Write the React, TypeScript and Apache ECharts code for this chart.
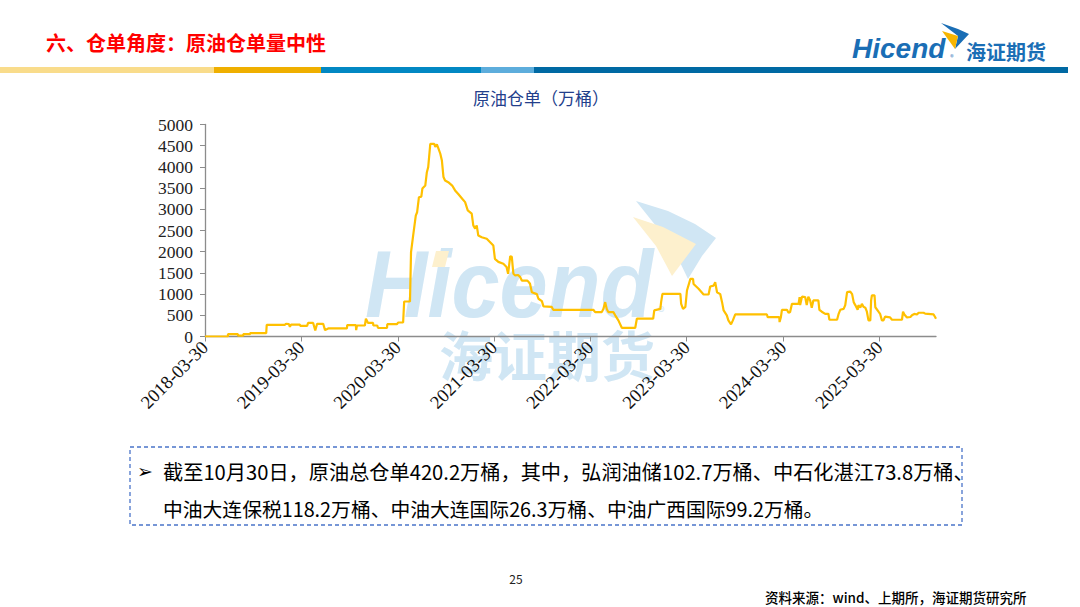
import React, { useEffect, useRef } from 'react';
import * as echarts from 'echarts';

// 原油仓单（万桶）— readings from the reference chart
const dates: string[] = [
  '2018-03-30', '2018-06-25', '2018-06-25', '2018-08-02', '2018-08-02', '2018-08-22', '2018-08-22', '2018-09-17',
  '2018-09-17', '2018-11-17', '2018-11-19', '2019-01-27', '2019-01-31', '2019-02-11', '2019-02-15', '2019-02-19',
  '2019-03-25', '2019-03-26', '2019-04-21', '2019-04-25', '2019-05-14', '2019-05-22', '2019-05-29', '2019-06-21',
  '2019-06-28', '2019-07-10', '2019-09-19', '2019-09-20', '2019-10-23', '2019-10-24', '2019-10-27', '2019-11-26',
  '2019-11-30', '2019-12-08', '2019-12-27', '2019-12-28', '2020-01-12', '2020-01-15', '2020-02-18', '2020-02-19',
  '2020-03-27', '2020-03-31', '2020-04-19', '2020-04-23', '2020-05-15', '2020-05-19', '2020-05-27', '2020-06-06',
  '2020-06-11', '2020-06-18', '2020-06-27', '2020-07-01', '2020-07-12', '2020-07-18', '2020-07-23', '2020-07-31',
  '2020-08-15', '2020-08-19', '2020-08-25', '2020-08-30', '2020-09-07', '2020-09-13', '2020-09-19', '2020-09-25',
  '2020-10-07', '2020-10-22', '2020-11-02', '2020-11-14', '2020-11-29', '2020-12-10', '2020-12-20', '2021-01-04',
  '2021-01-10', '2021-01-17', '2021-01-23', '2021-01-29', '2021-02-11', '2021-03-02', '2021-03-14', '2021-03-27',
  '2021-04-02', '2021-04-15', '2021-05-04', '2021-05-16', '2021-05-22', '2021-05-30', '2021-06-05', '2021-06-11',
  '2021-06-18', '2021-06-29', '2021-07-07', '2021-07-13', '2021-08-01', '2021-08-06', '2021-08-13', '2021-08-20',
  '2021-09-08', '2021-09-14', '2021-09-27', '2021-10-03', '2021-11-03', '2021-11-09', '2022-04-10', '2022-04-17',
  '2022-05-12', '2022-05-18', '2022-05-25', '2022-05-31', '2022-06-06', '2022-06-25', '2022-07-02', '2022-07-14',
  '2022-07-27', '2022-09-16', '2022-09-22', '2022-11-23', '2022-11-27', '2022-12-20', '2022-12-23', '2022-12-28',
  '2023-03-06', '2023-03-09', '2023-03-16', '2023-03-25', '2023-03-31', '2023-04-13', '2023-04-23', '2023-04-25',
  '2023-05-14', '2023-06-02', '2023-06-21', '2023-06-27', '2023-07-10', '2023-07-16', '2023-07-23', '2023-08-04',
  '2023-08-11', '2023-08-17', '2023-08-29', '2023-09-04', '2023-09-14', '2023-09-21', '2023-09-30', '2024-01-28',
  '2024-01-31', '2024-03-15', '2024-03-16', '2024-03-21', '2024-03-25', '2024-04-13', '2024-04-19', '2024-04-25',
  '2024-05-02', '2024-05-27', '2024-05-31', '2024-06-02', '2024-06-09', '2024-06-21', '2024-06-27', '2024-07-03',
  '2024-07-10', '2024-07-16', '2024-07-22', '2024-08-10', '2024-08-14', '2024-08-23', '2024-09-05', '2024-09-17',
  '2024-09-21', '2024-10-20', '2024-10-26', '2024-11-01', '2024-11-14', '2024-11-20', '2024-11-27', '2024-12-09',
  '2024-12-16', '2024-12-22', '2024-12-28', '2025-01-06', '2025-01-09', '2025-01-16', '2025-01-22', '2025-01-28',
  '2025-02-04', '2025-02-10', '2025-02-16', '2025-02-23', '2025-02-26', '2025-03-01', '2025-03-11', '2025-03-14',
  '2025-03-26', '2025-04-01', '2025-04-08', '2025-04-14', '2025-04-20', '2025-05-09', '2025-05-16', '2025-06-23',
  '2025-06-27', '2025-07-02', '2025-07-12', '2025-07-25', '2025-07-31', '2025-08-09', '2025-08-19', '2025-08-25',
  '2025-09-13', '2025-09-19', '2025-10-21', '2025-10-27', '2025-10-30',
];

const values: number[] = [
  0, 0, 55, 55, 20, 20, 55, 55,
  80, 80, 275, 275, 300, 290, 230, 280,
  280, 250, 250, 320, 320, 140, 300, 300,
  150, 190, 190, 270, 270, 150, 260, 260,
  420, 320, 320, 260, 260, 200, 200, 290,
  290, 330, 330, 825, 825, 1990, 2380, 2850,
  2930, 3285, 3300, 3490, 3560, 3875, 3990, 4545,
  4545, 4470, 4530, 4450, 4310, 4150, 3760, 3680,
  3640, 3560, 3445, 3360, 3250, 3170, 2975, 2900,
  2620, 2545, 2620, 2380, 2340, 2305, 2230, 2145,
  1830, 1760, 1715, 1640, 1480, 1895, 1880, 1480,
  1440, 1450, 1400, 1320, 1320, 1300, 1245, 1045,
  1000, 890, 835, 710, 700, 630, 630, 575,
  575, 650, 810, 650, 575, 575, 500, 380,
  205, 205, 420, 420, 615, 650, 810, 1005,
  1005, 770, 650, 700, 1085, 1360, 1360, 1240,
  1125, 990, 990, 1180, 1200, 1280, 1045, 1000,
  810, 615, 500, 380, 285, 380, 520, 520,
  455, 455, 340, 455, 630, 630, 560, 580,
  770, 770, 930, 740, 940, 930, 740, 940,
  850, 675, 850, 850, 630, 585, 535, 535,
  395, 395, 535, 630, 650, 740, 1045, 1060,
  1000, 810, 740, 630, 740, 680, 770, 700,
  680, 585, 380, 380, 850, 970, 970, 690,
  585, 535, 380, 380, 470, 450, 395, 395,
  585, 520, 450, 460, 500, 535, 520, 560,
  560, 540, 520, 455, 420.2,
];

const tickLabels: string[] = [
  '2018-03-30', '2019-03-30', '2020-03-30', '2021-03-30',
  '2022-03-30', '2023-03-30', '2024-03-30', '2025-03-30',
];
const axisStart = '2018-03-30';
const axisEnd = '2025-10-30';

const yMin = 0;
const yMax = 5000;
const yStep = 500;

const slideTitle = '六、仓单角度：原油仓单量中性';
const chartTitle = '原油仓单（万桶）';
const noteLine1 = '截至10月30日，原油总仓单420.2万桶，其中，弘润油储102.7万桶、中石化湛江73.8万桶、';
const noteLine2 = '中油大连保税118.2万桶、中油大连国际26.3万桶、中油广西国际99.2万桶。';
const pageNo = '25';
const sourceText = '资料来源：wind、上期所，海证期货研究所';

function ts(s: string): number {
  const [y, m, d] = s.split('-').map(Number);
  return Date.UTC(y, m - 1, d);
}
function pad(n: number) {
  return n < 10 ? '0' + n : '' + n;
}
function fmt(v: number): string {
  const d = new Date(v);
  return d.getUTCFullYear() + '-' + pad(d.getUTCMonth() + 1) + '-' + pad(d.getUTCDate());
}

const CJK = "'Noto Sans CJK SC', 'Noto Sans', sans-serif";
const SERIF = "'Liberation Serif', 'DejaVu Serif', serif";
const SANS = "'Liberation Sans', Arial, sans-serif";
const wmBlue = '#D0E6F4';
const wmYellow = '#FDF0CD';
const logoBlue = '#1A6EB5';

export default function App() {
  const ref = useRef<HTMLDivElement>(null);

  useEffect(() => {
    document.body.style.margin = '0';
    const chart = echarts.init(ref.current!, null, { renderer: 'svg' });
    const tickValues = tickLabels.map(ts);

    chart.setOption({
      animation: false,
      backgroundColor: '#ffffff',
      grid: { left: 205, right: 144, top: 124.5, bottom: 270.5, containLabel: false },
      xAxis: {
        type: 'value',
        min: ts(axisStart),
        max: ts(axisEnd),
        axisLine: { show: true, onZero: false, lineStyle: { color: '#8C8C8C', width: 1.3 } },
        axisTick: { show: true, length: 5, lineStyle: { color: '#8C8C8C' }, customValues: tickValues },
        axisLabel: {
          customValues: tickValues,
          rotate: 45,
          margin: 8,
          color: '#111',
          fontFamily: SERIF,
          fontSize: 18.5,
          formatter: (v: number) => fmt(v),
        },
        splitLine: { show: false },
      },
      yAxis: {
        type: 'value',
        min: yMin,
        max: yMax,
        interval: yStep,
        axisLine: { show: true, lineStyle: { color: '#8C8C8C', width: 1.3 } },
        axisTick: { show: true, length: 5, lineStyle: { color: '#8C8C8C' } },
        axisLabel: { color: '#222', fontFamily: SERIF, fontSize: 17.5, margin: 12, formatter: (v: number) => String(v) },
        splitLine: { show: false },
      },
      series: [
        {
          type: 'line',
          data: dates.map((d, i) => [ts(d), values[i]]),
          symbol: 'none',
          showSymbol: false,
          lineStyle: { color: '#FFC000', width: 2.2 },
          z: 5,
        },
      ],
      graphic: [
        // watermark
        {
          type: 'text', x: 365, y: 284, z: -10, scaleX: 0.92,
          style: { text: 'Hicend', fill: wmBlue, fontSize: 94, fontWeight: 'bold', fontStyle: 'italic',
            fontFamily: SANS, verticalAlign: 'middle', align: 'left' },
        },
        {
          type: 'polygon', z: -9,
          shape: { points: [[436, 251], [449, 251], [445, 267], [432, 267]] },
          style: { fill: wmYellow },
        },
        {
          type: 'text', x: 661, y: 311, z: -10,
          style: { text: '®', fill: wmBlue, fontSize: 14, fontFamily: CJK, verticalAlign: 'middle', align: 'center' },
        },
        {
          type: 'text', x: 439, y: 326, z: -10,
          style: { text: '海证期货', fill: wmBlue, fontSize: 54, fontWeight: 'bold', fontFamily: CJK, verticalAlign: 'top', align: 'left' },
        },
        {
          type: 'polygon', z: -10,
          shape: { points: [[636, 201], [668, 211], [695, 224], [716, 238], [702, 256], [688, 279], [676, 254], [656, 226]] },
          style: { fill: wmBlue },
        },
        {
          type: 'polygon', z: -9,
          shape: { points: [[633, 217], [663, 227], [696, 244], [672, 276], [656, 246]] },
          style: { fill: wmYellow },
        },
        // slide header
        {
          type: 'text', x: 46, y: 42,
          style: { text: slideTitle, fill: '#FF0000', fontSize: 20, fontWeight: 'bold', fontFamily: CJK, verticalAlign: 'middle' },
        },
        { type: 'rect', shape: { x: 0, y: 67, width: 214, height: 6 }, style: { fill: '#F9DC8B' } },
        { type: 'rect', shape: { x: 214, y: 67, width: 107, height: 6 }, style: { fill: '#EFAF00' } },
        { type: 'rect', shape: { x: 321, y: 67, width: 160, height: 6 }, style: { fill: '#0288C3' } },
        { type: 'rect', shape: { x: 481, y: 67, width: 53, height: 6 }, style: { fill: '#5DADDC' } },
        { type: 'rect', shape: { x: 534, y: 67, width: 534, height: 6 }, style: { fill: '#0069A3' } },
        // header logo
        {
          type: 'text', x: 852, y: 48,
          style: { text: 'Hicend', fill: logoBlue, fontSize: 28, fontWeight: 'bold', fontStyle: 'italic',
            fontFamily: SANS, verticalAlign: 'middle' },
        },
        {
          type: 'text', x: 952, y: 57,
          style: { text: '®', fill: logoBlue, fontSize: 7, fontFamily: CJK, verticalAlign: 'middle', align: 'center' },
        },
        {
          type: 'polygon',
          shape: { points: [[941, 23], [958, 29], [969, 34], [955, 49], [958, 36]] },
          style: { fill: logoBlue },
        },
        {
          type: 'polygon',
          shape: { points: [[942, 31], [958, 36], [955, 49]] },
          style: { fill: '#F7B500' },
        },
        {
          type: 'text', x: 966, y: 51,
          style: { text: '海证期货', fill: logoBlue, fontSize: 20, fontWeight: 'bold', fontFamily: CJK, verticalAlign: 'middle' },
        },
        // chart title
        {
          type: 'text', x: 541, y: 97,
          style: { text: chartTitle, fill: '#23408C', fontSize: 17, fontFamily: CJK, align: 'center', verticalAlign: 'middle' },
        },
        // note box
        {
          type: 'rect',
          shape: { x: 130, y: 447, width: 832, height: 78 },
          style: { fill: 'none', stroke: '#4A74C9', lineWidth: 1.3, lineDash: [4, 3] },
        },
        {
          type: 'text', x: 137, y: 471,
          style: { text: '➢', fill: '#000', fontSize: 19, fontWeight: 'bold', fontFamily: "'DejaVu Sans', sans-serif", verticalAlign: 'middle' },
        },
        {
          type: 'text', x: 163, y: 471,
          style: { text: noteLine1, fill: '#000', fontSize: 20.2, fontFamily: CJK, verticalAlign: 'middle' },
        },
        {
          type: 'text', x: 163, y: 508,
          style: { text: noteLine2, fill: '#000', fontSize: 19.8, fontFamily: CJK, verticalAlign: 'middle' },
        },
        // footer
        {
          type: 'text', x: 516, y: 578,
          style: { text: pageNo, fill: '#222', fontSize: 12, fontFamily: CJK, align: 'center', verticalAlign: 'middle' },
        },
        {
          type: 'text', x: 765, y: 597,
          style: { text: sourceText, fill: '#000', fontSize: 13.5, fontWeight: 500, fontFamily: CJK, verticalAlign: 'middle' },
        },
      ],
    });

    return () => chart.dispose();
  }, []);

  return <div ref={ref} style={{ width: 1080, height: 607 }} />;
}
